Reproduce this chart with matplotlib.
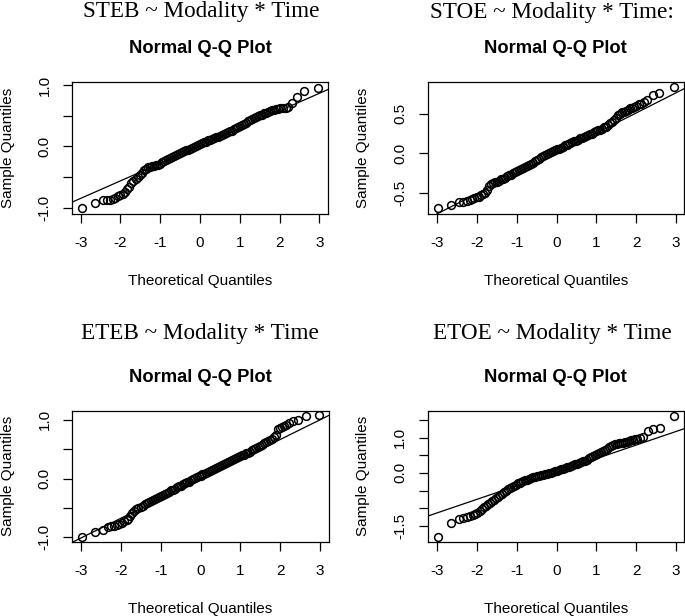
import matplotlib.pyplot as plt

plt.rcParams['font.family'] = 'Liberation Sans'
plt.rcParams['font.size'] = 11

W, H = 685, 616  # output size in pixels

titles = ['STEB ~ Modality * Time', 'STOE ~ Modality * Time:',
          'ETEB ~ Modality * Time', 'ETOE ~ Modality * Time']

# theoretical / sample quantiles
steb_x = [-2.98, -2.63, -2.45, -2.35, -2.27, -2.20, -2.13, -2.06, -2.00, -1.94,
          -1.88, -1.83, -1.78, -1.73, -1.68, -1.62, -1.56, -1.50, -1.45, -1.40,
          -1.35, -1.30, -1.25, -1.20, -1.15, -1.10, -1.05, -1.00, -0.95, -0.90,
          -0.85, -0.80, -0.75, -0.70, -0.65, -0.60, -0.55, -0.50, -0.45, -0.40,
          -0.35, -0.30, -0.25, -0.20, -0.15, -0.10, -0.05, 0.00, 0.05, 0.10,
          0.15, 0.20, 0.25, 0.30, 0.35, 0.40, 0.45, 0.50, 0.55, 0.60,
          0.65, 0.70, 0.75, 0.80, 0.85, 0.90, 0.95, 1.00, 1.05, 1.10,
          1.15, 1.20, 1.25, 1.30, 1.35, 1.40, 1.45, 1.50, 1.55, 1.60,
          1.65, 1.70, 1.75, 1.80, 1.85, 1.90, 1.95, 2.00, 2.08, 2.16,
          2.22, 2.31, 2.45, 2.62, 2.97]
steb_y = [-1.01, -0.92, -0.88, -0.87, -0.87, -0.86, -0.84, -0.81, -0.79, -0.77,
          -0.74, -0.70, -0.66, -0.60, -0.57, -0.53, -0.50, -0.47, -0.43, -0.39,
          -0.36, -0.34, -0.33, -0.32, -0.32, -0.31, -0.30, -0.28, -0.26, -0.24,
          -0.22, -0.20, -0.18, -0.17, -0.15, -0.14, -0.12, -0.11, -0.09, -0.08,
          -0.06, -0.05, -0.04, -0.02, -0.01, 0.01, 0.03, 0.04, 0.05, 0.07,
          0.08, 0.10, 0.11, 0.12, 0.14, 0.15, 0.16, 0.17, 0.19, 0.20,
          0.22, 0.23, 0.25, 0.26, 0.28, 0.30, 0.32, 0.34, 0.35, 0.37,
          0.39, 0.41, 0.43, 0.44, 0.46, 0.48, 0.49, 0.51, 0.52, 0.54,
          0.55, 0.56, 0.58, 0.59, 0.60, 0.61, 0.61, 0.62, 0.62, 0.63,
          0.64, 0.70, 0.80, 0.91, 0.95]

stoe_x = [-2.98, -2.64, -2.46, -2.34, -2.25, -2.18, -2.12, -2.06, -2.00, -1.95,
          -1.90, -1.85, -1.80, -1.75, -1.70, -1.65, -1.60, -1.55, -1.50, -1.45,
          -1.40, -1.35, -1.30, -1.25, -1.20, -1.15, -1.10, -1.05, -1.00, -0.95,
          -0.90, -0.85, -0.80, -0.75, -0.70, -0.65, -0.60, -0.55, -0.50, -0.45,
          -0.40, -0.35, -0.30, -0.25, -0.20, -0.15, -0.10, -0.05, 0.00, 0.05,
          0.10, 0.15, 0.20, 0.25, 0.30, 0.35, 0.40, 0.45, 0.50, 0.55,
          0.60, 0.65, 0.70, 0.75, 0.80, 0.85, 0.90, 0.95, 1.00, 1.05,
          1.10, 1.15, 1.20, 1.25, 1.30, 1.35, 1.40, 1.45, 1.50, 1.55,
          1.60, 1.65, 1.70, 1.75, 1.80, 1.85, 1.90, 1.95, 2.00, 2.06,
          2.12, 2.19, 2.26, 2.41, 2.57, 2.96]
stoe_y = [-0.70, -0.66, -0.62, -0.62, -0.60, -0.59, -0.58, -0.57, -0.56, -0.55,
          -0.53, -0.52, -0.50, -0.46, -0.42, -0.39, -0.38, -0.37, -0.36, -0.35,
          -0.33, -0.32, -0.31, -0.29, -0.28, -0.27, -0.25, -0.24, -0.22, -0.21,
          -0.20, -0.19, -0.17, -0.16, -0.15, -0.13, -0.12, -0.10, -0.08, -0.07,
          -0.05, -0.04, -0.02, -0.01, 0.01, 0.02, 0.03, 0.04, 0.05, 0.06,
          0.07, 0.08, 0.10, 0.11, 0.12, 0.13, 0.14, 0.15, 0.16, 0.17,
          0.19, 0.20, 0.21, 0.22, 0.23, 0.24, 0.25, 0.27, 0.28, 0.29,
          0.30, 0.31, 0.33, 0.34, 0.36, 0.38, 0.40, 0.42, 0.45, 0.48,
          0.50, 0.52, 0.53, 0.54, 0.55, 0.57, 0.58, 0.59, 0.60, 0.62,
          0.63, 0.65, 0.68, 0.74, 0.76, 0.84]

eteb_x = [-2.97, -2.64, -2.45, -2.32, -2.24, -2.17, -2.10, -2.04, -1.98, -1.92,
          -1.86, -1.81, -1.76, -1.71, -1.66, -1.61, -1.56, -1.50, -1.45, -1.40,
          -1.35, -1.30, -1.25, -1.20, -1.15, -1.10, -1.05, -1.00, -0.95, -0.90,
          -0.85, -0.80, -0.75, -0.70, -0.65, -0.60, -0.55, -0.50, -0.45, -0.40,
          -0.35, -0.30, -0.25, -0.20, -0.15, -0.10, -0.05, 0.00, 0.05, 0.10,
          0.15, 0.20, 0.25, 0.30, 0.35, 0.40, 0.45, 0.50, 0.55, 0.60,
          0.65, 0.70, 0.75, 0.80, 0.85, 0.90, 0.95, 1.00, 1.05, 1.10,
          1.15, 1.20, 1.25, 1.30, 1.35, 1.40, 1.45, 1.50, 1.55, 1.60,
          1.65, 1.70, 1.75, 1.80, 1.85, 1.91, 1.96, 2.00, 2.05, 2.10,
          2.16, 2.23, 2.33, 2.45, 2.64, 2.97]
eteb_y = [-0.99, -0.91, -0.88, -0.83, -0.81, -0.80, -0.79, -0.77, -0.75, -0.73,
          -0.71, -0.68, -0.64, -0.59, -0.55, -0.52, -0.50, -0.48, -0.46, -0.44,
          -0.42, -0.40, -0.38, -0.36, -0.35, -0.33, -0.31, -0.30, -0.28, -0.26,
          -0.24, -0.22, -0.20, -0.19, -0.17, -0.15, -0.13, -0.12, -0.10, -0.08,
          -0.06, -0.05, -0.03, -0.01, 0.01, 0.02, 0.04, 0.05, 0.07, 0.08,
          0.10, 0.11, 0.13, 0.15, 0.17, 0.18, 0.20, 0.21, 0.23, 0.25,
          0.27, 0.28, 0.30, 0.32, 0.33, 0.35, 0.37, 0.38, 0.40, 0.41,
          0.43, 0.44, 0.46, 0.48, 0.50, 0.52, 0.54, 0.56, 0.58, 0.60,
          0.62, 0.64, 0.66, 0.68, 0.71, 0.75, 0.84, 0.86, 0.88, 0.89,
          0.91, 0.95, 0.98, 0.99, 1.06, 1.09]

etoe_x = [-2.98, -2.64, -2.46, -2.34, -2.25, -2.18, -2.11, -2.05, -1.99, -1.93,
          -1.88, -1.83, -1.78, -1.73, -1.68, -1.63, -1.58, -1.53, -1.48, -1.43,
          -1.38, -1.33, -1.28, -1.23, -1.18, -1.13, -1.08, -1.03, -0.98, -0.93,
          -0.88, -0.83, -0.78, -0.73, -0.68, -0.63, -0.58, -0.53, -0.48, -0.43,
          -0.38, -0.33, -0.28, -0.23, -0.18, -0.13, -0.08, -0.03, 0.02, 0.07,
          0.12, 0.17, 0.22, 0.27, 0.32, 0.37, 0.42, 0.47, 0.52, 0.57,
          0.62, 0.67, 0.72, 0.77, 0.82, 0.87, 0.92, 0.97, 1.02, 1.07,
          1.12, 1.17, 1.22, 1.27, 1.32, 1.37, 1.42, 1.47, 1.52, 1.57,
          1.62, 1.67, 1.72, 1.77, 1.82, 1.87, 1.92, 1.97, 2.02, 2.09,
          2.17, 2.29, 2.43, 2.60, 2.96]
etoe_y = [-1.82, -1.41, -1.31, -1.27, -1.24, -1.21, -1.18, -1.16, -1.13, -1.09,
          -1.03, -0.97, -0.93, -0.89, -0.85, -0.81, -0.77, -0.72, -0.68, -0.63,
          -0.59, -0.54, -0.51, -0.47, -0.44, -0.40, -0.36, -0.33, -0.30, -0.28,
          -0.26, -0.23, -0.21, -0.19, -0.17, -0.15, -0.13, -0.11, -0.09, -0.08,
          -0.06, -0.05, -0.03, -0.02, 0.00, 0.01, 0.03, 0.04, 0.06, 0.08,
          0.10, 0.12, 0.14, 0.16, 0.18, 0.20, 0.22, 0.24, 0.26, 0.28,
          0.30, 0.33, 0.35, 0.38, 0.41, 0.44, 0.47, 0.50, 0.53, 0.56,
          0.60, 0.63, 0.66, 0.69, 0.73, 0.76, 0.79, 0.81, 0.83, 0.84,
          0.85, 0.86, 0.88, 0.89, 0.90, 0.92, 0.93, 0.95, 0.97, 0.99,
          1.02, 1.18, 1.25, 1.28, 1.62]

# qqline of each panel (intercept, slope)
line_icpt = [0.01, 0.0, -0.005, 0.02]
line_slope = [0.285, 0.256, 0.335, 0.385]

xticks = [-3, -2, -1, 0, 1, 2, 3]
yticks = [[-1.0, -0.5, 0.0, 0.5, 1.0],
          [-0.5, 0.0, 0.5],
          [-1.0, -0.5, 0.0, 0.5, 1.0],
          [-1.5, -1.0, -0.5, 0.0, 0.5, 1.0, 1.5]]
ytick_labels = [['-1.0', '', '0.0', '', '1.0'],
                ['-0.5', '0.0', '0.5'],
                ['-1.0', '', '0.0', '', '1.0'],
                ['-1.5', '', '', '0.0', '', '1.0', '']]

xs = [steb_x, stoe_x, eteb_x, etoe_x]
ys = [steb_y, stoe_y, eteb_y, etoe_y]
xlims = [(-3.22, 3.22), (-3.24, 3.20), (-3.23, 3.23), (-3.24, 3.20)]
ylims = [(-1.10, 1.05), (-0.77, 0.905), (-1.08, 1.16), (-1.96, 1.77)]

# plot boxes in pixels: left, top, right, bottom
boxes = [(72, 82, 328, 214), (427.5, 82, 684, 214),
         (72, 410.5, 329, 542), (427.5, 410.5, 684, 542)]
title_pos = [(200.8, 16.7), (552.3, 18.3), (200, 339), (552.7, 339)]

fig = plt.figure(figsize=(W / 100, H / 100), dpi=100)

for i in range(4):
    l, t, r, b = boxes[i]
    ax = fig.add_axes([l / W, 1 - b / H, (r - l) / W, (b - t) / H])
    ax.plot(xs[i], ys[i], 'o', mfc='none', mec='black', ms=5.6, mew=1.1)
    ax.axline((0, line_icpt[i]), slope=line_slope[i], color='black', lw=0.9)
    ax.set_xlim(xlims[i])
    ax.set_ylim(ylims[i])
    ax.set_xticks(xticks, [str(v) for v in xticks])
    ax.set_yticks(yticks[i], ytick_labels[i], rotation=90, va='center')
    ax.tick_params(direction='out', length=6.5, width=0.9, labelsize=11)
    ax.tick_params(axis='x', pad=9.5)
    ax.tick_params(axis='y', pad=8)
    for s in ax.spines.values():
        s.set_linewidth(0.9)

    cx = (l + r) / 2
    tx, ty = title_pos[i]
    fig.text(tx / W, 1 - ty / H, titles[i], family='Liberation Serif',
             fontsize=16.7, ha='center', va='baseline')
    fig.text(cx / W, 1 - (t - 29) / H, 'Normal Q-Q Plot', fontsize=13.2,
             fontweight='bold', ha='center', va='baseline')
    fig.text(cx / W, 1 - (b + 70.5) / H, 'Theoretical Quantiles',
             ha='center', va='baseline')
    fig.text((l - 64) / W, 1 - (t + b) / 2 / H, 'Sample Quantiles',
             rotation=90, ha='center', va='center')

fig.savefig('out.png', dpi=100)
